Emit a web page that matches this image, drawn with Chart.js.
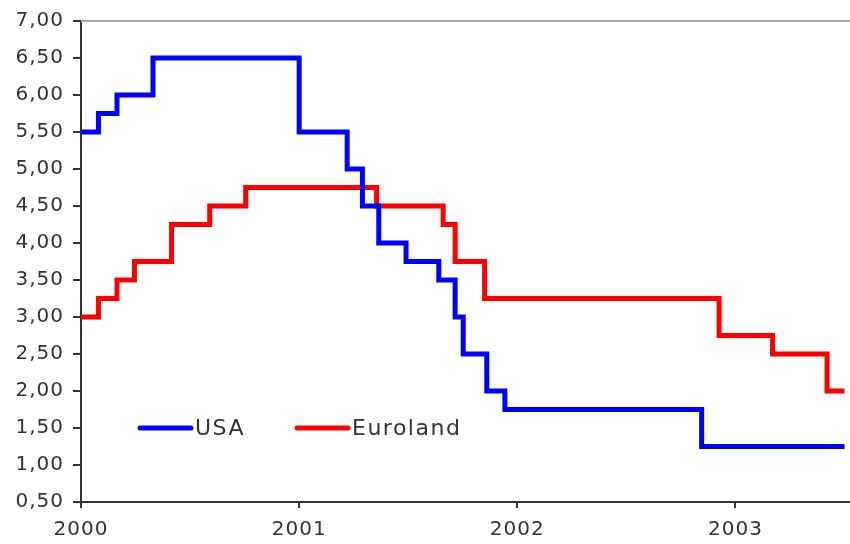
<!DOCTYPE html>
<html>
<head>
<meta charset="utf-8">
<script src="https://cdn.jsdelivr.net/npm/chart.js@4.4.0/dist/chart.umd.min.js"></script>
<style>
  html, body { margin: 0; padding: 0; background: #fff; }
  #wrap { width: 850px; height: 544px; }
</style>
</head>
<body>
<div id="wrap"><canvas id="rates"></canvas></div>
<script>
// step dates (fractional year) and the rate that starts there
const usaDates = [2000.00, 2000.08, 2000.165, 2000.33, 2001.00, 2001.22, 2001.29, 2001.365,
  2001.49, 2001.64, 2001.715, 2001.752, 2001.86, 2001.943, 2002.845, 2003.50];
const usaRates = [5.50, 5.75, 6.00, 6.50, 5.50, 5.00, 4.50, 4.00,
  3.75, 3.50, 3.00, 2.50, 2.00, 1.75, 1.25, 1.25];

const euroDates = [2000.00, 2000.08, 2000.165, 2000.245, 2000.415, 2000.59, 2000.755, 2001.355,
  2001.66, 2001.715, 2001.85, 2002.925, 2003.17, 2003.42, 2003.50];
const euroRates = [3.00, 3.25, 3.50, 3.75, 4.25, 4.50, 4.75, 4.50,
  4.25, 3.75, 3.25, 2.75, 2.50, 2.00, 2.00];

const seriesNames = ['USA', 'Euroland'];
const seriesColors = ['#0000ff', '#ff0000'];
const yearTicks = [2000, 2001, 2002, 2003];

const toPoints = (xs, ys) => xs.map((x, i) => ({ x: x, y: ys[i] }));

const textColor = '#333';
const axisColor = '#333';

// top border + legend inside the plot
const extras = {
  id: 'extras',
  beforeDraw(chart) {
    chart.ctx.letterSpacing = '1px';
  },
  beforeDatasetsDraw(chart) {
    const { ctx, chartArea } = chart;
    ctx.save();
    ctx.strokeStyle = '#aaaaaa';
    ctx.lineWidth = 2;
    ctx.beginPath();
    ctx.moveTo(chartArea.left, chartArea.top);
    ctx.lineTo(chartArea.right, chartArea.top);
    ctx.stroke();
    ctx.restore();
  },
  afterDraw(chart) {
    const { ctx } = chart;
    const y = chart.scales.y.getPixelForValue(1.5);
    const starts = [140, 297];
    ctx.save();
    ctx.letterSpacing = '1.5px';
    ctx.font = '22px "DejaVu Sans"';
    ctx.textBaseline = 'middle';
    ctx.fillStyle = textColor;
    seriesNames.forEach((name, i) => {
      const x0 = starts[i];
      ctx.strokeStyle = seriesColors[i];
      ctx.lineWidth = 5;
      ctx.lineCap = 'round';
      ctx.beginPath();
      ctx.moveTo(x0, y);
      ctx.lineTo(x0 + 51, y);
      ctx.stroke();
      ctx.fillText(name, x0 + 55, y + 1);
    });
    ctx.restore();
  }
};

new Chart(document.getElementById('rates'), {
  type: 'line',
  data: {
    datasets: [
      {
        label: seriesNames[0],
        data: toPoints(usaDates, usaRates),
        borderColor: seriesColors[0],
        borderWidth: 5,
        stepped: true,
        pointRadius: 0,
        fill: false
      },
      {
        label: seriesNames[1],
        data: toPoints(euroDates, euroRates),
        borderColor: seriesColors[1],
        borderWidth: 5,
        stepped: true,
        pointRadius: 0,
        fill: false
      }
    ]
  },
  options: {
    responsive: true,
    maintainAspectRatio: false,
    animation: false,
    layout: { padding: { top: 17, right: 0, left: 0, bottom: 0 } },
    plugins: {
      legend: { display: false },
      tooltip: { enabled: false }
    },
    scales: {
      x: {
        type: 'linear',
        min: 2000,
        max: 2003.525,
        afterFit: s => { s.height = 42; },
        afterBuildTicks: s => { s.ticks = yearTicks.map(v => ({ value: v })); },
        border: { color: axisColor, width: 2 },
        grid: { drawOnChartArea: false, drawTicks: true, tickLength: 6, color: axisColor, lineWidth: 2 },
        ticks: {
          color: textColor,
          font: { family: 'DejaVu Sans', size: 20 },
          padding: 10,
          maxRotation: 0,
          callback: v => String(v)
        }
      },
      y: {
        min: 0.5,
        max: 7,
        afterFit: s => { s.width = 81; },
        border: { color: axisColor, width: 2 },
        grid: { drawOnChartArea: false, drawTicks: true, tickLength: 8, color: axisColor, lineWidth: 2 },
        ticks: {
          stepSize: 0.5,
          color: textColor,
          font: { family: 'DejaVu Sans', size: 20 },
          padding: 9,
          callback: v => v.toFixed(2).replace('.', ',')
        }
      }
    }
  },
  plugins: [extras]
});
</script>
</body>
</html>
